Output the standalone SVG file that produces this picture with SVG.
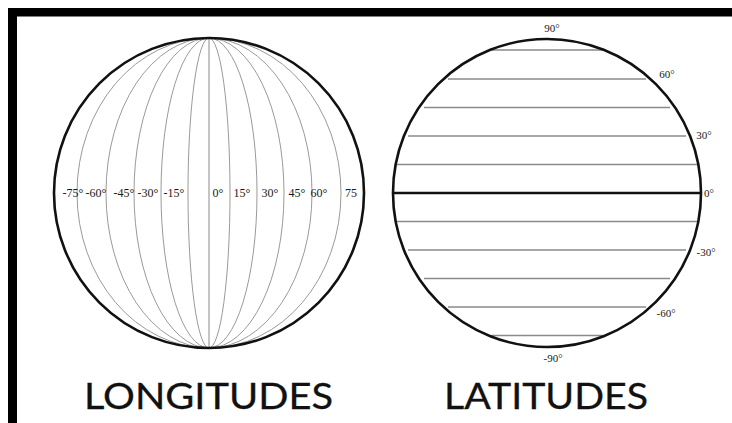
<svg xmlns="http://www.w3.org/2000/svg" width="732" height="423" viewBox="0 0 732 423">
<style>
.outline{fill:none;stroke:#111;stroke-width:2.6}
.mer{fill:none;stroke:#9a9a9a;stroke-width:1}
.lat{stroke:#8a8a8a;stroke-width:1.6}
.eq{stroke:#111;stroke-width:2.6}
.lbl{font-family:"Liberation Serif","DejaVu Serif",serif;font-size:12px;fill:#1a1a1a}
.title{font-family:Lato,"Open Sans","Liberation Sans",sans-serif;font-size:36px;fill:#111;stroke:#111;stroke-width:0.3}
</style>
<rect x="0" y="0" width="732" height="423" fill="#ffffff"/>
<g id="frame" fill="#000">
<rect x="8" y="8" width="724" height="8.5"/>
<rect x="8" y="8" width="9" height="415"/>
</g>
<g id="longitudes">
<g class="mer">
<line x1="209" y1="38" x2="209" y2="348" stroke="#8a8a8a"/>
<ellipse cx="209" cy="193" rx="21" ry="155"/>
<ellipse cx="209" cy="193" rx="48" ry="155"/>
<ellipse cx="209" cy="193" rx="75" ry="155"/>
<ellipse cx="209" cy="193" rx="103" ry="155"/>
<ellipse cx="209" cy="193" rx="132" ry="155"/>
</g>
<circle class="outline" cx="209" cy="193" r="155"/>
<g class="lbl" text-anchor="middle">
<text x="73" y="197">-75°</text>
<text x="96" y="197">-60°</text>
<text x="124" y="197">-45°</text>
<text x="148" y="197">-30°</text>
<text x="174" y="197">-15°</text>
<text x="218" y="197">0°</text>
<text x="242" y="197">15°</text>
<text x="270" y="197">30°</text>
<text x="297" y="197">45°</text>
<text x="319" y="197">60°</text>
<text x="351" y="197">75</text>
</g>
<text class="title" x="84" y="409" textLength="249" lengthAdjust="spacingAndGlyphs">LONGITUDES</text>
</g>
<g id="latitudes">
<g class="lat">
<line x1="491" y1="50" x2="603" y2="50"/>
<line x1="448" y1="79" x2="646" y2="79"/>
<line x1="424" y1="107.5" x2="670" y2="107.5"/>
<line x1="408" y1="136" x2="686" y2="136"/>
<line x1="397" y1="164.5" x2="697" y2="164.5"/>
<line x1="397" y1="221.5" x2="697" y2="221.5"/>
<line x1="408" y1="250" x2="686" y2="250"/>
<line x1="424" y1="278.5" x2="670" y2="278.5"/>
<line x1="448" y1="307" x2="646" y2="307"/>
<line x1="491" y1="335.5" x2="603" y2="335.5"/>
</g>
<line class="eq" x1="393" y1="193" x2="701" y2="193"/>
<circle class="outline" cx="547" cy="193" r="154"/>
<g class="lbl" style="font-size:11px" text-anchor="middle">
<text x="552" y="32">90°</text>
<text x="667" y="78">60°</text>
<text x="704" y="139">30°</text>
<text x="709" y="197">0°</text>
<text x="706" y="256">-30°</text>
<text x="666" y="317">-60°</text>
<text x="553" y="362">-90°</text>
</g>
<text class="title" x="444" y="409" textLength="204" lengthAdjust="spacingAndGlyphs">LATITUDES</text>
</g>
</svg>
